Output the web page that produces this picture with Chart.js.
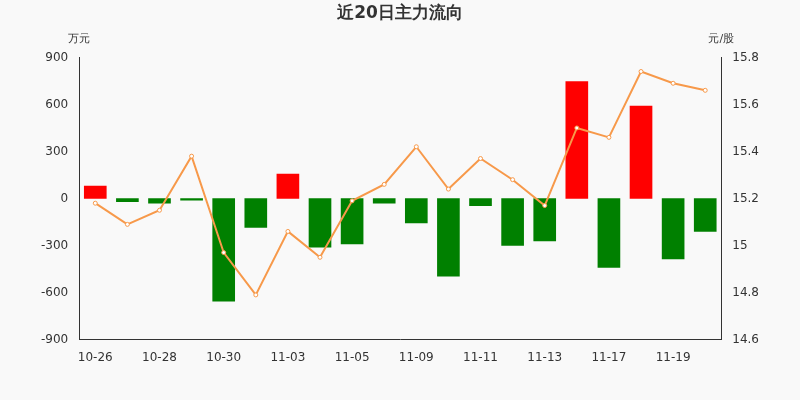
<!DOCTYPE html>
<html>
<head>
<meta charset="utf-8">
<script src="https://cdn.jsdelivr.net/npm/chart.js@4"></script>
<style>
  html, body { margin: 0; padding: 0; background: #f9f9f9; }
  #wrap { width: 800px; height: 400px; }
</style>
</head>
<body>
<div id="wrap"><canvas id="chart"></canvas></div>
<script>
const dates = ['10-26','10-27','10-28','10-29','10-30','11-02','11-03','11-04','11-05','11-06',
               '11-09','11-10','11-11','11-12','11-13','11-16','11-17','11-18','11-19','11-20'];
const mainFlow = [80, -20, -30, -10, -655, -185, 155, -310, -290, -30,
                  -155, -495, -45, -300, -270, 745, -440, 590, -385, -210];
const closePrice = [15.18, 15.09, 15.15, 15.38, 14.97, 14.79, 15.06, 14.95, 15.19, 15.26,
                    15.42, 15.24, 15.37, 15.28, 15.17, 15.50, 15.46, 15.74, 15.69, 15.66];

const font = { family: "'DejaVu Sans', sans-serif", size: 12 };

// unit labels above the two y axes
const unitLabels = {
    id: 'unitLabels',
    afterDraw(chart) {
        const { ctx, chartArea } = chart;
        ctx.save();
        ctx.fillStyle = '#333';
        ctx.font = "11px 'DejaVu Sans', sans-serif";
        ctx.textAlign = 'center';
        ctx.fillText('万元', chartArea.left, 42);
        ctx.fillText('元/股', chartArea.right, 42);
        ctx.restore();
    }
};

new Chart(document.getElementById('chart'), {
    data: {
        labels: dates,
        datasets: [{
            type: 'line',
            data: closePrice,
            yAxisID: 'y1',
            borderColor: '#f7994a',
            borderWidth: 2,
            pointRadius: 2,
            pointBackgroundColor: '#fff',
            pointBorderColor: '#f7994a',
            pointBorderWidth: 1,
            tension: 0
        }, {
            type: 'bar',
            data: mainFlow,
            yAxisID: 'y',
            backgroundColor: mainFlow.map(v => v >= 0 ? '#ff0000' : '#008000'),
            barThickness: 22
        }]
    },
    options: {
        responsive: true,
        maintainAspectRatio: false,
        animation: false,
        layout: { padding: { top: 3, left: 38, right: 38, bottom: 32 } },
        plugins: {
            legend: { display: false },
            tooltip: { enabled: false },
            title: {
                display: true,
                text: '近20日主力流向',
                color: '#333',
                font: { family: font.family, size: 17, weight: 'bold' },
                padding: { top: 0, bottom: 34 }
            }
        },
        scales: {
            x: {
                grid: { display: false, drawTicks: true },
                border: { color: '#333' },
                ticks: {
                    color: '#333', font, maxRotation: 0, autoSkip: false,
                    callback: (v, i) => i % 2 === 0 ? dates[i] : ''
                }
            },
            y: {
                position: 'left',
                min: -900, max: 900,
                afterBuildTicks: ax => { ax.ticks = [-900,-600,-300,0,300,600,900].map(v => ({ value: v })); },
                grid: { display: false },
                border: { color: '#333' },
                ticks: { color: '#333', font }
            },
            y1: {
                position: 'right',
                min: 14.6, max: 15.8,
                afterBuildTicks: ax => { ax.ticks = [14.6,14.8,15,15.2,15.4,15.6,15.8].map(v => ({ value: v })); },
                grid: { display: false },
                border: { color: '#333' },
                ticks: { color: '#333', font, callback: v => String(Math.round(v * 10) / 10) }
            }
        }
    },
    plugins: [unitLabels]
});
</script>
</body>
</html>
